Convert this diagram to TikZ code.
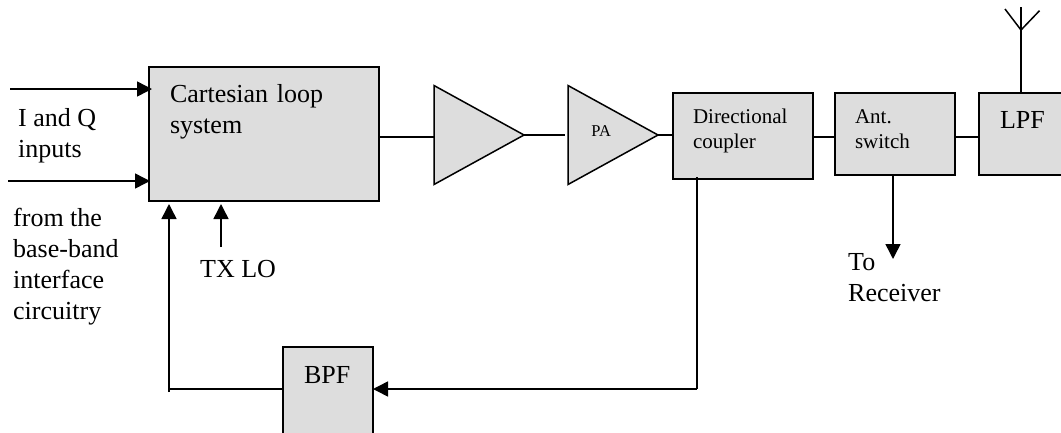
\documentclass[tikz,border=0pt]{standalone}
\usepackage{fontspec}
\setmainfont{Liberation Serif}
\usetikzlibrary{positioning,shapes.geometric,arrows.meta}
\definecolor{boxgray}{HTML}{DDDDDD}
\tikzset{
	blockbox/.style n args={4}{draw,fill=boxgray,line width=1.5pt,inner ysep=0pt,outer sep=0pt,
		inner xsep=#1,text width=#2,text height=#3,text depth=#4,align=left},
	bigtext/.style={font=\fontsize{26}{31}\selectfont},
	midtext/.style={font=\fontsize{21}{25}\selectfont},
	amptri/.style={draw,fill=boxgray,line width=1.5pt,isosceles triangle,isosceles triangle stretches,
		inner sep=0pt,outer sep=0pt,minimum width=99pt,minimum height=90pt,anchor=lower side},
	wire/.style={line width=1.5pt},
	sigarrow/.style={line width=1.5pt,-{Triangle[length=15pt,width=15pt]}},
	freetext/.style={bigtext,align=left,anchor=base west,inner sep=0pt}
}
\begin{document}
\begin{tikzpicture}[x=1pt,y=-1pt,on grid]
	\useasboundingbox (0,0) rectangle (1061,432);
	\clip (0,0) rectangle (1061,432);
	\node[blockbox={21pt}{188pt}{35pt}{99pt},bigtext] (cart) at (264,134) {Cartesian loop\\system};
	\node[blockbox={21pt}{48pt}{36pt}{62pt},bigtext] (bpf) at (328,396) {BPF};
	\node[amptri] (driver) at (434,135) {};
	\node[amptri,font=\fontsize{16.5}{18}\selectfont,text depth=8pt] (pa) at (568,135) {\hspace*{9pt}PA};
	\node[blockbox={20pt}{100pt}{30pt}{56pt},midtext] (coupler) at (743,136) {Directional\\coupler};
	\node[blockbox={20pt}{80pt}{30pt}{52pt},midtext,yshift=2pt] (antsw) [right=152pt of coupler] {Ant.\\switch};
	\node[blockbox={21pt}{54pt}{35pt}{47pt},bigtext] (lpf) [right=132pt of antsw] {LPF};
	\node[freetext] (iq) at (18,157) {I and Q\\inputs};
	\node[freetext] (base) at (13,319) {from the\\base-band\\interface\\circuitry};
	\node[freetext] (txlo) at (200,277) {TX LO};
	\node[freetext] (rx) at (848,301) {To\\Receiver};
	\coordinate (in_i) at (10,89);
	\coordinate (in_q) at (8,181);
	\coordinate (lo_start) at (221,247);
	\coordinate (fb_corner) at (169,392);
	\coordinate (fb_left) at (169,389);
	\coordinate (fb_right) at (697,389);
	\coordinate (tap) at (697,177);
	\coordinate (rx_tip) at (893,259);
	\coordinate (ant_top) at (1021,7);
	\coordinate (ant_join) at (1021,30);
	\coordinate (ant_l) at (1005,9);
	\coordinate (ant_r) at (1039.5,10.7);
	\draw[sigarrow,shorten >=-3pt] (in_i) -- (in_i -| cart.west);
	\draw[sigarrow,shorten >=-1pt] (in_q) -- (in_q -| cart.west);
	\draw[sigarrow,shorten >=3pt] (lo_start) -- (lo_start |- cart.south);
	\draw[wire] (fb_corner) -- (fb_left) -- (fb_left -| bpf.west);
	\draw[sigarrow,shorten >=3pt] (fb_left) -- (fb_left |- cart.south);
	\draw[wire] (tap) -- (fb_right);
	\draw[sigarrow] (fb_right) -- (fb_right -| bpf.east);
	\draw[wire] (cart.east |- 0,137) -- (driver.lower side |- 0,137);
	\draw[wire] (driver.apex) -- ++(41,0);
	\draw[wire] (pa.apex) -- (pa.apex -| coupler.west);
	\draw[wire] (coupler.east |- 0,137) -- (antsw.west |- 0,137);
	\draw[wire] (antsw.east |- 0,137) -- (lpf.west |- 0,137);
	\draw[sigarrow] (rx_tip |- antsw.south) -- (rx_tip);
	\draw[wire] (ant_top |- lpf.north) -- (ant_top);
	\draw[wire] (ant_l) -- (ant_join) -- (ant_r);
\end{tikzpicture}
\end{document}
